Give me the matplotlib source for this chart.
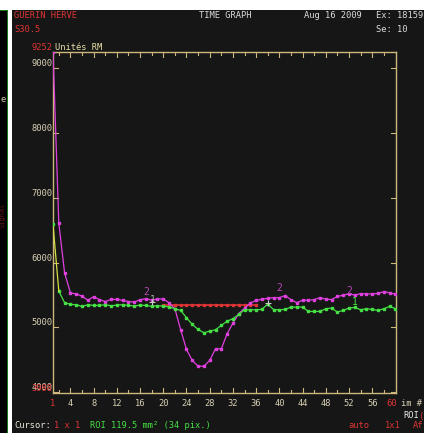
import matplotlib
matplotlib.use("Agg")
import matplotlib.pyplot as plt
from matplotlib.patches import Rectangle

# image index 1..60
frames = list(range(1, 61))

# ROI 2 (magenta)
roi2 = [9252, 6610, 5840, 5535, 5515, 5485, 5420, 5475, 5430, 5400,
        5433, 5433, 5417, 5400, 5392, 5428, 5445, 5420, 5440, 5440,
        5380, 5289, 4964, 4660, 4490, 4402, 4402, 4490, 4670, 4670,
        4902, 5066, 5212, 5298, 5376, 5417, 5435, 5450, 5459, 5460,
        5492, 5428, 5382, 5420, 5420, 5430, 5459, 5438, 5430, 5479,
        5497, 5520, 5498, 5523, 5515, 5518, 5525, 5553, 5536, 5512]

# ROI 1 (green)
roi1 = [6590, 5560, 5382, 5356, 5351, 5325, 5351, 5340, 5340, 5351,
        5335, 5345, 5351, 5340, 5330, 5345, 5340, 5325, 5335, 5330,
        5315, 5289, 5263, 5150, 5046, 4969, 4918, 4943, 4964, 5031,
        5097, 5134, 5201, 5273, 5273, 5273, 5280, 5360, 5275, 5273,
        5278, 5314, 5314, 5314, 5247, 5247, 5247, 5289, 5299, 5237,
        5263, 5299, 5309, 5273, 5289, 5278, 5263, 5288, 5325, 5289]

# red reference line
ref_frames = list(range(20, 37))
ref_vals = [5348] * len(ref_frames)

y_min, y_max = 3988, 9252
yticks = [4000, 5000, 6000, 7000, 8000, 9000]
xticks = [4, 8, 12, 16, 20, 24, 28, 32, 36, 40, 44, 48, 52, 56]

W, H = 424, 433
bg = "#161616"
frame_col = "#ccb87c"
txt_col = "#d8d0b4"
red = "#e03434"
mag = "#e040e0"
grn = "#44e044"
mono = "DejaVu Sans Mono"
fs = 6.3

fig = plt.figure(figsize=(W / 100, H / 100), dpi=100, facecolor="white")

def px(x, y):
    return x / W, 1 - y / H

# panels
fig.patches.append(Rectangle(px(0, 433), 7 / W, 423 / H, transform=fig.transFigure,
                             facecolor="black", edgecolor="none", zorder=-3))
fig.patches.append(Rectangle(px(6.5, 433), 1.5 / W, 423 / H, transform=fig.transFigure,
                             facecolor="#1e7a1e", edgecolor="none", zorder=-3))
fig.patches.append(Rectangle(px(0, 11), 8 / W, 1.2 / H, transform=fig.transFigure,
                             facecolor="#1e7a1e", edgecolor="none", zorder=-3))
fig.patches.append(Rectangle(px(11.5, 433), (W - 11.5) / W, 423 / H, transform=fig.transFigure,
                             facecolor=bg, edgecolor="none", zorder=-3))

x0, x1, yt, yb = 53, 396, 52, 393
ax = fig.add_axes([x0 / W, 1 - yb / H, (x1 - x0) / W, (yb - yt) / H])
ax.set_zorder(2)
ax.set_facecolor(bg)
ax.set_xlim(1, 60.1)
ax.set_ylim(y_min, y_max)
for s in ax.spines.values():
    s.set_color(frame_col)
    s.set_linewidth(1.0)

# series
ax.plot(frames, roi2, color=mag, lw=0.9, marker="s", ms=1.5, mec=mag, mfc=mag, zorder=3)
ax.plot(frames[1:], roi1[1:], color=grn, lw=0.9, marker="s", ms=1.5, mec=grn, mfc=grn, zorder=4)
ax.plot(frames[:2], roi1[:2], color="#d8e040", lw=0.9, zorder=4)
ax.plot(frames[:1], roi1[:1], "s", color=grn, ms=1.5, zorder=4)
ax.plot(ref_frames, ref_vals, color=red, lw=1.2, marker="s", ms=2.0, mec=red, mfc=red, zorder=2)

# curve labels and cursor crosses
lab2 = "#b848b8"
ax.text(17, 5540, "2", color=lab2, fontsize=7, family=mono, ha="center", va="center")
ax.text(40, 5610, "2", color=lab2, fontsize=7, family=mono, ha="center", va="center")
ax.text(52, 5560, "2", color=lab2, fontsize=7, family=mono, ha="center", va="center")
ax.text(18.2, 5420, "1", color="#98b098", fontsize=7, family=mono, ha="center", va="center")
ax.text(53, 5400, "1", color=grn, fontsize=7, family=mono, ha="center", va="center")
ax.plot([18, 38], [5400, 5370], "+", color="#c8c8c8", ms=5, mew=0.8, zorder=5)

# ticks
ax.set_xticks([])
ax.set_yticks([])
tl = (y_max - y_min) / (yb - yt)
xl = 59.1 / (x1 - x0)
for v in range(2, 60, 2):
    h = 5 if v % 4 == 0 else 3
    ax.plot([v, v], [y_min, y_min + h * tl], color=frame_col, lw=0.8, clip_on=False)
    ax.plot([v, v], [y_max, y_max - h * tl], color=frame_col, lw=0.8, clip_on=False)
for v in yticks:
    ax.plot([1, 1 + 5 * xl], [v, v], color=frame_col, lw=0.8)
    ax.plot([60.1, 60.1 - 5 * xl], [v, v], color=frame_col, lw=0.8)

# y labels (baseline on tick)
for v in yticks:
    ax.text(0.85, v, str(v), color=txt_col, fontsize=fs, family=mono, ha="right", va="bottom")
ax.text(0.85, y_min, str(y_min), color=red, fontsize=fs, family=mono, ha="right", va="bottom")
ax.text(0.85, y_max, str(y_max), color=red, fontsize=fs, family=mono, ha="right", va="bottom")
ax.text(1.3, y_max, "Unités RM", color="#e8e0a8", fontsize=fs, family=mono, ha="left", va="bottom")

# x labels
def figtxt(x, y, s, c, ha="left", **kw):
    fig.text(x / W, 1 - y / H, s, color=c, fontsize=fs, family=mono, ha=ha, va="center", **kw)

for v in xticks:
    figtxt(x0 + (v - 1) / xl, 404, str(v), txt_col, ha="center")
figtxt(53, 404, "1", red, ha="center")
figtxt(397, 404, "60", red, ha="right")
figtxt(401, 404, "im #", txt_col)
figtxt(403, 416, "ROI", "#e8e8e8")
figtxt(418, 416, "(", red)

# header
figtxt(14, 16, "GUERIN HERVE", red)
figtxt(14, 30, "S30.5", red)
figtxt(199, 16, "TIME GRAPH", "#dcdcdc")
figtxt(304, 16, "Aug 16 2009", "#dcdcdc")
figtxt(376, 16, "Ex: 18159", "#dcdcdc")
figtxt(376, 30, "Se: 10", "#dcdcdc")

# footer
figtxt(14, 425, "Cursor:", "#e8e8d8")
figtxt(54, 425, "1 x 1", red)
figtxt(90, 425, "ROI 119.5 mm² (34 pix.)", grn)
figtxt(348, 425, "auto", red)
figtxt(385, 425, "1x1", red)
figtxt(413, 425, "Af", red)

# left strip remnants
figtxt(0.5, 100, "e", txt_col)
fig.text(3 / W, 1 - 215 / H, "Signal", color="#6a1818", fontsize=5, family=mono,
         rotation=90, ha="center", va="center")

fig.savefig("out.png", dpi=100, facecolor=fig.get_facecolor())
